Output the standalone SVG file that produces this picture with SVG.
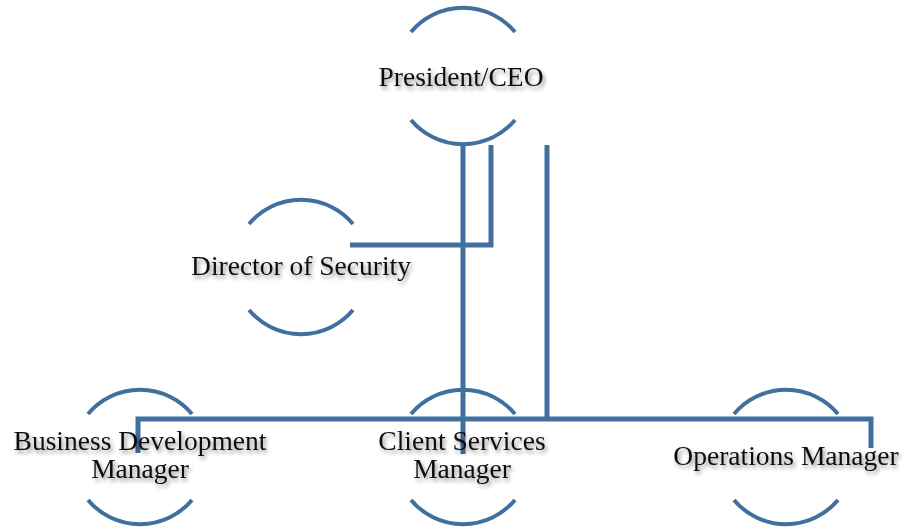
<svg xmlns="http://www.w3.org/2000/svg" width="909" height="531" viewBox="0 0 909 531">
<defs>
<filter id="sh" x="-10%" y="-30%" width="120%" height="170%">
<feGaussianBlur in="SourceAlpha" stdDeviation="2"/>
<feOffset dx="1.5" dy="3" result="b"/>
<feComponentTransfer><feFuncA type="linear" slope="0.45"/></feComponentTransfer>
<feMerge><feMergeNode/><feMergeNode in="SourceGraphic"/></feMerge>
</filter>
</defs>
<style>
.arc{fill:none;stroke:#41709f;stroke-width:4}
.con{fill:none;stroke:#41709f;stroke-width:5}
.lbl{font-family:"Liberation Serif","Times New Roman",serif;font-size:27.5px;fill:#111;text-anchor:middle;filter:url(#sh)}
</style>
<rect width="909" height="531" fill="#fff"/>
<g id="connectors">
<path class="con" d="M463 143 V454"/>
<path class="con" d="M491 145 V245 H350"/>
<path class="con" d="M547 145 V419"/>
<path class="con" d="M138 453 V419 H871 V448"/>
</g>
<g id="president">
<path class="arc" d="M411 32 A68 68 0 0 1 515 32 M411 120 A68 68 0 0 0 515 120"/>
<text class="lbl" x="461" y="86">President/CEO</text>
</g>
<g id="director">
<path class="arc" d="M249 224 A68 68 0 0 1 353 224 M249 310 A68 68 0 0 0 353 310"/>
<text class="lbl" x="301" y="275">Director of Security</text>
</g>
<g id="bdm">
<path class="arc" d="M88 414 A68 68 0 0 1 192 414 M88 500 A68 68 0 0 0 192 500"/>
<text class="lbl" x="140" y="450">Business Development</text>
<text class="lbl" x="140" y="478">Manager</text>
</g>
<g id="csm">
<path class="arc" d="M411 414 A68 68 0 0 1 515 414 M411 500 A68 68 0 0 0 515 500"/>
<text class="lbl" x="462" y="450">Client Services</text>
<text class="lbl" x="462" y="478">Manager</text>
</g>
<g id="ops">
<path class="arc" d="M734 414 A68 68 0 0 1 838 414 M734 500 A68 68 0 0 0 838 500"/>
<text class="lbl" x="786" y="465">Operations Manager</text>
</g>
</svg>
